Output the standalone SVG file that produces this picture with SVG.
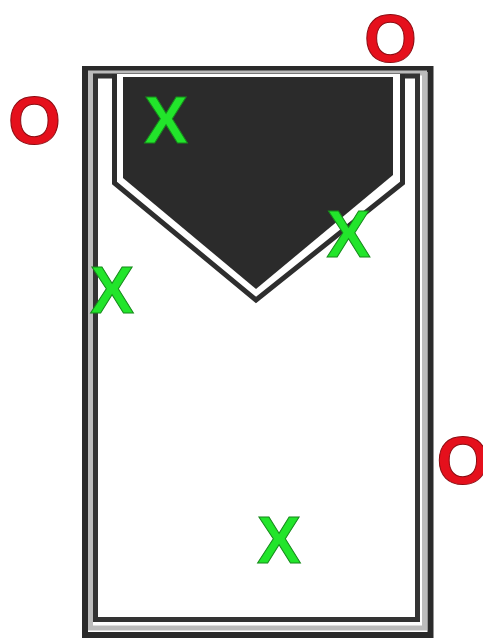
<svg xmlns="http://www.w3.org/2000/svg" width="483" height="641" viewBox="0 0 483 641">
  <style>
    .o { font-family: "Liberation Sans", Arial, sans-serif; font-weight: bold; font-size: 68px; fill: #e5101c; stroke: #8a0a10; stroke-width: 1; text-anchor: middle; }
    .x { font-family: "Liberation Sans", Arial, sans-serif; font-weight: bold; font-size: 66px; fill: #22e52b; stroke: #178a1c; stroke-width: 1; text-anchor: middle; }
  </style>
  <rect x="0" y="0" width="483" height="641" fill="#ffffff"/>
  <g id="frame">
    <rect x="85" y="69" width="345.5" height="566" fill="#ffffff" stroke="#2a2a2a" stroke-width="6"/>
    <rect x="90.5" y="73" width="334" height="555" fill="none" stroke="#bcbcbc" stroke-width="5"/>
    <rect x="95.5" y="76" width="322" height="543.5" fill="#ffffff" stroke="#333333" stroke-width="5"/>
  </g>
  <g id="pocket">
    <path d="M114.5,74 V183 L256,300 L402.5,183 V74" fill="#ffffff" stroke="#2e2e2e" stroke-width="5" stroke-linejoin="miter"/>
    <path d="M123,77 H393 V175 L256,289 L123,178 Z" fill="#2b2b2b"/>
  </g>
  <g id="labels">
    <text class="o" x="34.5" y="144">O</text>
    <text class="o" x="390.5" y="62">O</text>
    <text class="o" x="463" y="484">O</text>
    <text class="x" x="166" y="143">X</text>
    <text class="x" x="348.5" y="257">X</text>
    <text class="x" x="112" y="313">X</text>
    <text class="x" x="279" y="563">X</text>
  </g>
</svg>
